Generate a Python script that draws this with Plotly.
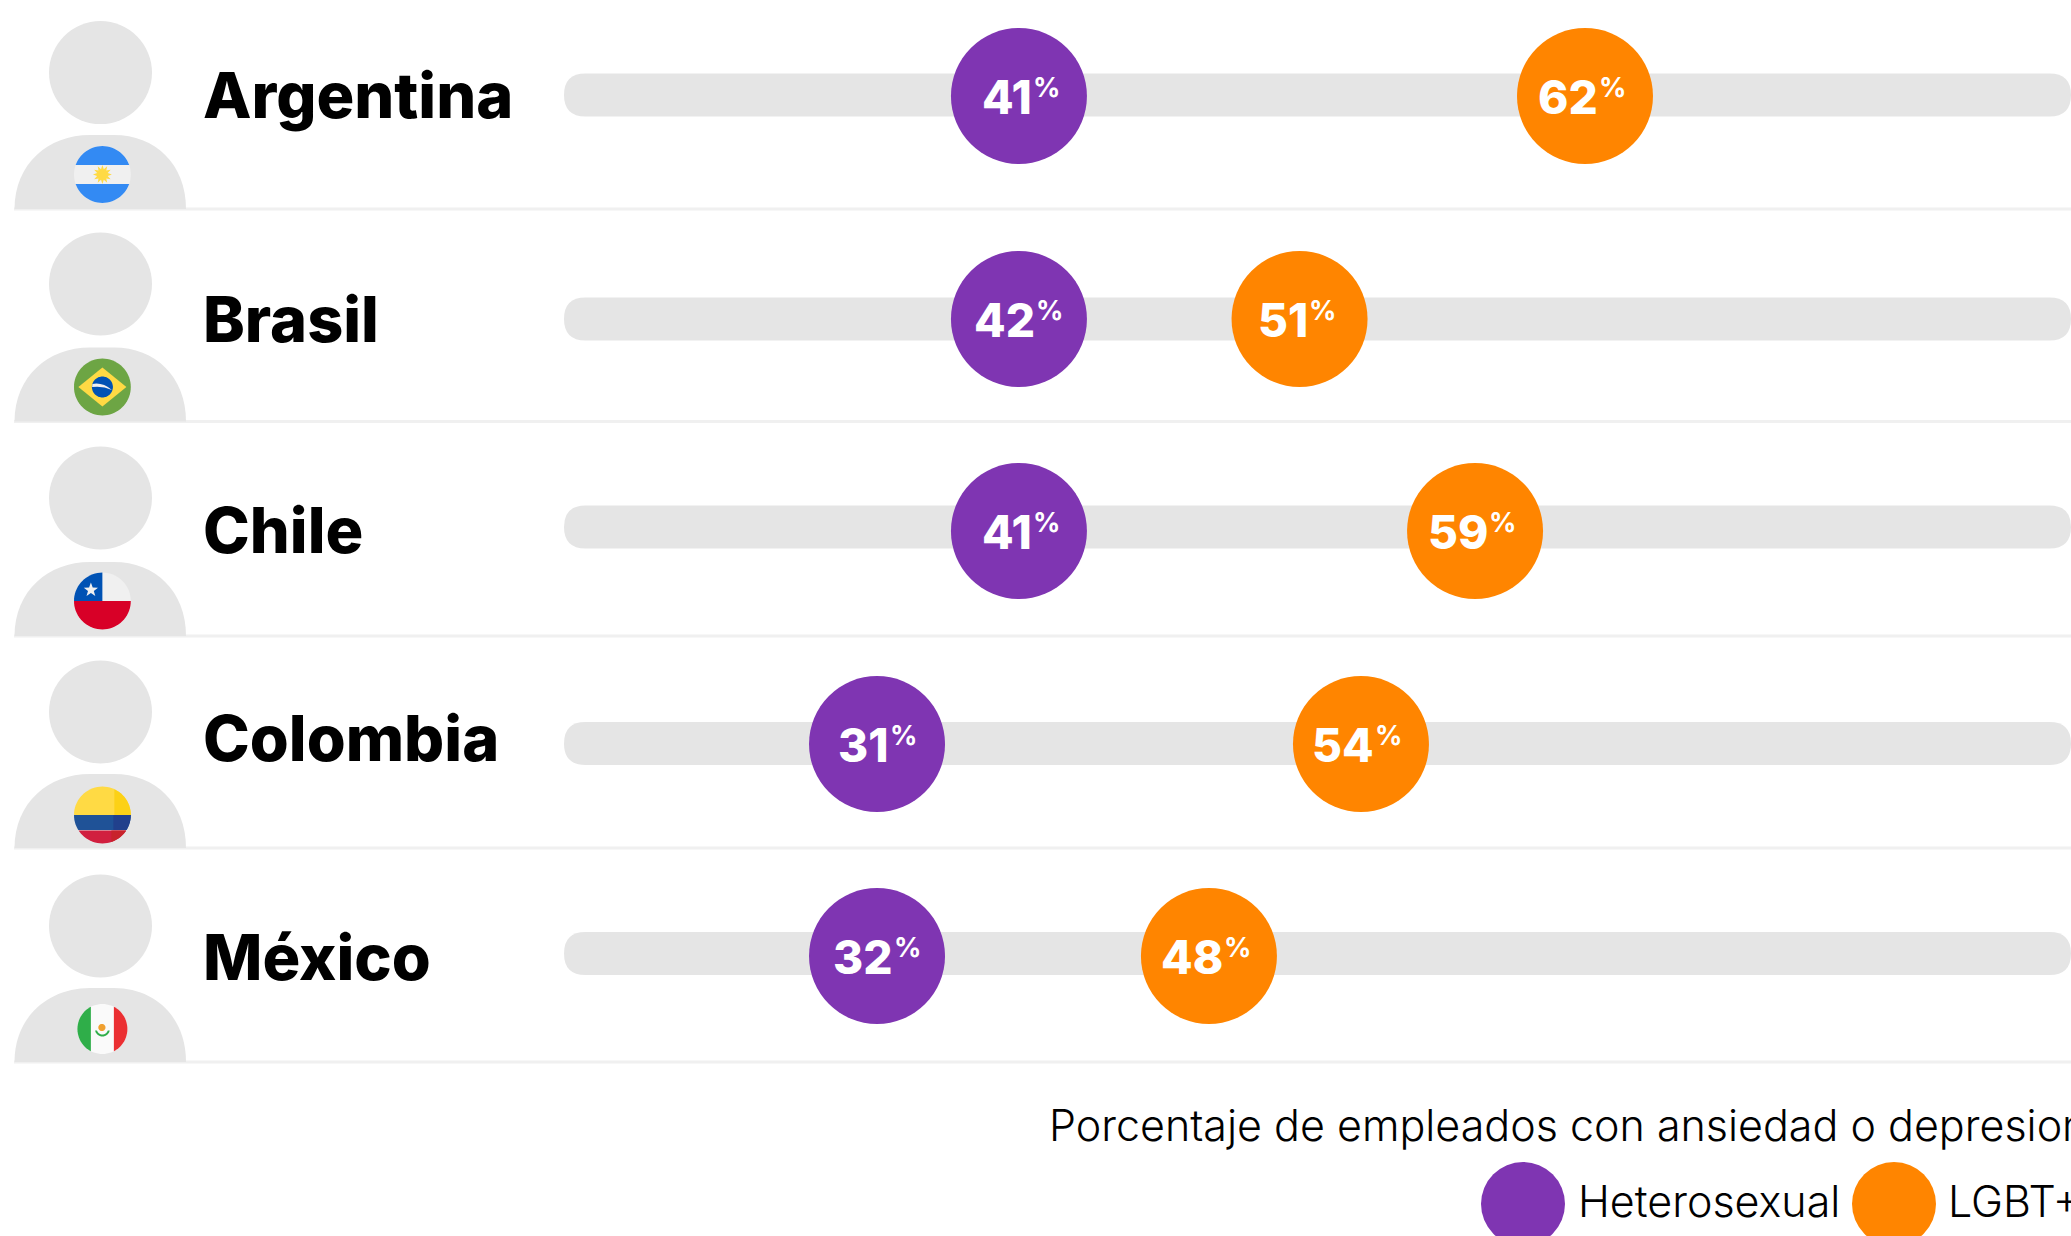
import numpy as np
import plotly.graph_objects as go

W, H = 2071, 1236
countries = ["Argentina", "Brasil", "Chile", "Colombia", "México"]
hetero_labels = [41, 42, 41, 31, 32]
lgbt_labels = [62, 51, 59, 54, 48]
# where each dot sits along the track (the source spacing is not strictly linear)
hetero_drawn = [37.67, 37.67, 37.67, 31.5, 31.5]
lgbt_drawn = [62.28, 49.87, 57.5, 52.54, 45.93]
legend_title = "Porcentaje de empleados con ansiedad o depresion"
legend_names = ["Heterosexual", "LGBT+"]

PURPLE, ORANGE, GREY, RULE = "#7F35B2", "#FF8500", "#E5E5E5", "#F0F0F0"
FONT_B, FONT_L = "Inter", "Inter"

row_dot_y = [96, 319, 531, 744, 956]
row_track_y = [95, 319, 527, 743.5, 953.5]
row_base_y = [209, 421.5, 636, 848, 1062]
row_head_y = [72.6, 284, 498, 712, 926]
row_flag_y = [174.5, 387, 601, 815, 1029]
row_text_y = [95, 319, 530, 738, 957]
label_nudge = {42: 3, 32: 3, 51: -5, 31: -1, 48: 1}

shapes = []


def poly_path(pts):
    return "M" + "L".join(f"{x:.1f},{y:.1f}" for x, y in pts) + "Z"


def add(path, color, layer="below"):
    shapes.append(dict(type="path", path=path, xref="x2", yref="y", fillcolor=color,
                       line=dict(width=0), layer=layer))


def circle_pts(cx, cy, r, n=72):
    t = np.linspace(0, 2 * np.pi, n, endpoint=False)
    return list(zip(cx + r * np.cos(t), cy + r * np.sin(t)))


def clip(pts, a, b, c):
    """keep part with a*x+b*y<=c"""
    out = []
    for i in range(len(pts)):
        p, q = pts[i], pts[(i + 1) % len(pts)]
        dp, dq = a * p[0] + b * p[1] - c, a * q[0] + b * q[1] - c
        if dp <= 0:
            out.append(p)
        if dp * dq < 0:
            s = dp / (dp - dq)
            out.append((p[0] + s * (q[0] - p[0]), p[1] + s * (q[1] - p[1])))
    return out


def band(cx, cy, r, y0=None, y1=None, x0=None, x1=None):
    pts = circle_pts(cx, cy, r)
    if y0 is not None:
        pts = clip(pts, 0, -1, -(cy + y0))
    if y1 is not None:
        pts = clip(pts, 0, 1, cy + y1)
    if x0 is not None:
        pts = clip(pts, -1, 0, -(cx + x0))
    if x1 is not None:
        pts = clip(pts, 1, 0, cx + x1)
    return poly_path(pts)


# rules, tracks, silhouettes
for base, ty, hy in zip(row_base_y, row_track_y, row_head_y):
    shapes.append(dict(type="line", xref="x2", yref="y", x0=14, x1=W, y0=base, y1=base,
                       line=dict(color=RULE, width=3), layer="below"))
    r = 21.5
    x0, x1 = 564, 2071
    add(f"M{x0+r},{ty-r} L{x1-r},{ty-r} Q{x1},{ty-r} {x1},{ty} Q{x1},{ty+r} {x1-r},{ty+r} "
        f"L{x0+r},{ty+r} Q{x0},{ty+r} {x0},{ty} Q{x0},{ty-r} {x0+r},{ty-r} Z", GREY)
    shapes.append(dict(type="circle", xref="x2", yref="y", x0=100.5 - 51.5, x1=100.5 + 51.5,
                       y0=hy - 51.5, y1=hy + 51.5, fillcolor=GREY, line=dict(width=0), layer="below"))
    t = base - 74
    add(f"M14.5,{base} C14.5,{base-45} 48,{t} 90,{t} L114,{t} C155,{t} 186,{base-45} 186,{base} Z", GREY)

# flags
fx = 102.4
R = 28.4
c = row_flag_y[0]
add(poly_path(circle_pts(fx, c, R)), "#F0F0F0")
add(band(fx, c, R, y1=-R / 3), "#338AF3")
add(band(fx, c, R, y0=R / 3), "#338AF3")
sun = []
for i in range(24):
    rr = 9.5 if i % 2 == 0 else 5.5
    a = i * np.pi / 12
    sun.append((fx + rr * np.cos(a), c + rr * np.sin(a)))
add(poly_path(sun), "#FFDA44")

c = row_flag_y[1]
add(poly_path(circle_pts(fx, c, R)), "#6DA544")
add(poly_path([(fx - 24, c), (fx, c - 19.5), (fx + 24, c), (fx, c + 19.5)]), "#FFDA44")
add(poly_path(circle_pts(fx, c, 10.5)), "#0052B4")
add(f"M{fx-10},{c-3} Q{fx},{c-5} {fx+9.5},{c+3} Q{fx},{c-1.5} {fx-10.3},{c} Z", "#F0F0F0")

c = row_flag_y[2]
add(poly_path(circle_pts(fx, c, R)), "#F0F0F0")
add(band(fx, c, R, y0=0), "#D80027")
add(band(fx, c, R, y1=0, x1=0), "#0052B4")
star = []
for i in range(10):
    rr = 7.5 if i % 2 == 0 else 3
    a = -np.pi / 2 + i * np.pi / 5
    star.append((fx - 11.5 + rr * np.cos(a), c - 11 + rr * np.sin(a)))
add(poly_path(star), "#F0F0F0")

c = row_flag_y[3]
add(band(fx, c, R, y1=0.5), "#FFDA44")
add(band(fx, c, R, y1=0.5, x0=12), "#FCD116")
add(band(fx, c, R, y0=0, y1=15), "#1F5297")
add(band(fx, c, R, y0=0, y1=15, x0=11), "#21408C")
add(band(fx, c, R, y0=15.5), "#D11F3F")
add(band(fx, c, R, y0=15.5, x0=9), "#C8232C")

c = row_flag_y[4]
Rm = 25
add(poly_path(circle_pts(fx, c, Rm)), "#FAFAFA")
add(band(fx, c, Rm, x1=-11.5), "#2FAE49")
add(band(fx, c, Rm, x0=11.5), "#EB2F32")
add(band(fx, c, 7.5, y0=1.5), "#2FAE49")
add(band(fx, c, 5.5, y0=0), "#FAFAFA")
add(poly_path(circle_pts(fx - 0.5, c - 1.5, 3.6)), "#F0A030")

fig = go.Figure()
annotations = []

for xs, labels, col in [(hetero_drawn, hetero_labels, PURPLE), (lgbt_drawn, lgbt_labels, ORANGE)]:
    fig.add_trace(go.Scatter(
        x=xs, y=row_dot_y, mode="markers", xaxis="x", yaxis="y",
        marker=dict(size=136, color=col, line=dict(width=0)),
        cliponaxis=False, showlegend=False, hoverinfo="skip"))
    for xv, yv, v in zip(xs, row_dot_y, labels):
        n = label_nudge.get(v, 0)
        annotations.append(dict(text=str(v), x=xv, y=yv, xref="x", yref="y", xanchor="right", yanchor="middle",
                                xshift=15 + n, yshift=-1, showarrow=False,
                                font=dict(family=FONT_B, size=46, color="white", weight=800)))
        annotations.append(dict(text="%", x=xv, y=yv, xref="x", yref="y", xanchor="left", yanchor="middle",
                                xshift=12 + n, yshift=9, showarrow=False,
                                font=dict(family=FONT_B, size=27, color="white", weight=700)))

fig.add_trace(go.Scatter(
    x=[1523, 1894], y=[1204, 1204], mode="markers", xaxis="x2", yaxis="y",
    marker=dict(size=84, color=[PURPLE, ORANGE], line=dict(width=0)),
    showlegend=False, hoverinfo="skip"))

for name, y in zip(countries, row_text_y):
    annotations.append(dict(text=name, x=200.5, y=y, xref="x2", yref="y", xanchor="left", yanchor="middle",
                            showarrow=False, font=dict(family=FONT_B, size=63, color="black", weight=800)))
annotations.append(dict(text=legend_title, x=1047, y=1125, xref="x2", yref="y", xanchor="left", yanchor="middle",
                        showarrow=False, font=dict(family=FONT_L, size=43, color="black", weight=300)))
for name, x in zip(legend_names, [1575.5, 1945.5]):
    annotations.append(dict(text=name, x=x, y=1201, xref="x2", yref="y", xanchor="left", yanchor="middle",
                            showarrow=False, font=dict(family=FONT_L, size=43, color="black", weight=300)))

fig.update_layout(
    width=W, height=H, margin=dict(l=0, r=0, t=0, b=0),
    paper_bgcolor="white", plot_bgcolor="white", showlegend=False,
    xaxis=dict(range=[-6.63, 83.41], visible=False, domain=[0, 1]),
    xaxis2=dict(range=[0, W], visible=False, overlaying="x", domain=[0, 1]),
    yaxis=dict(range=[H, 0], visible=False, domain=[0, 1]),
    shapes=shapes, annotations=annotations,
)
fig.write_html("out.html", config=dict(displayModeBar=False),
               post_script="document.body.style.margin='0';document.body.style.overflow='hidden';")
